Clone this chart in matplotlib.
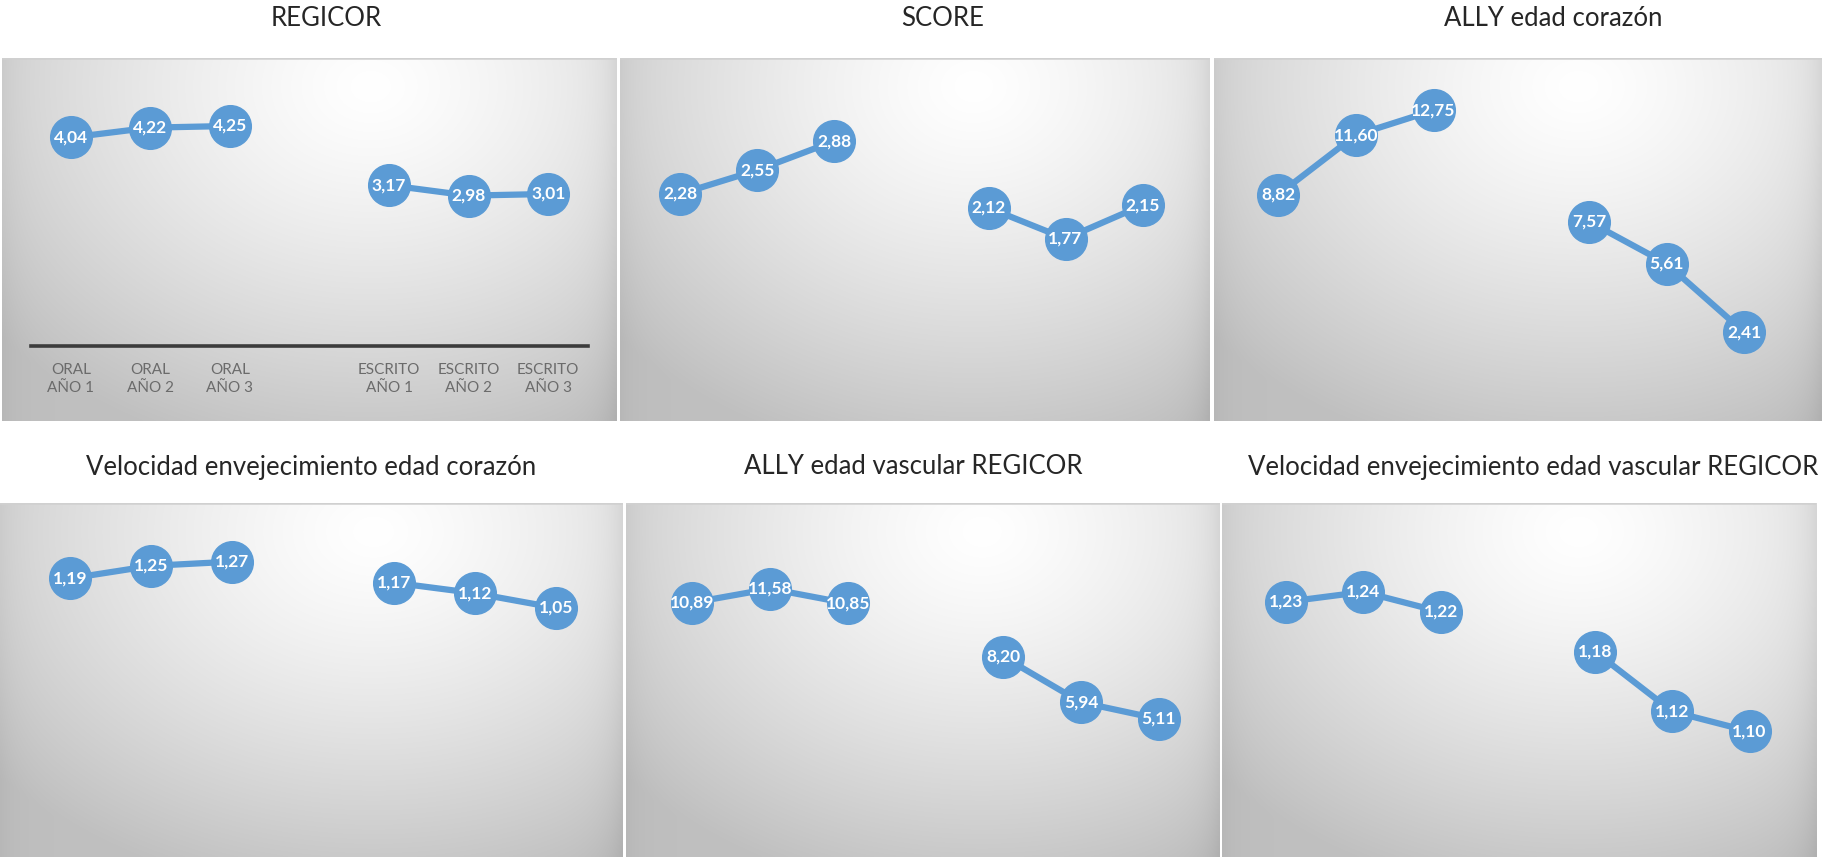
import numpy as np
import matplotlib
matplotlib.use("Agg")
import matplotlib.pyplot as plt

# ---- data -------------------------------------------------------------
categories = ["ORAL\nAÑO 1", "ORAL\nAÑO 2", "ORAL\nAÑO 3", "",
              "ESCRITO\nAÑO 1", "ESCRITO\nAÑO 2", "ESCRITO\nAÑO 3"]
oral_pos = [0, 1, 2]
escrito_pos = [4, 5, 6]

titles = ["REGICOR", "SCORE", "ALLY edad corazón",
          "Velocidad envejecimiento edad corazón",
          "ALLY edad vascular REGICOR",
          "Velocidad envejecimiento edad vascular REGICOR"]

regicor_oral = [4.04, 4.22, 4.25]
regicor_escrito = [3.17, 2.98, 3.01]
score_oral = [2.28, 2.55, 2.88]
score_escrito = [2.12, 1.77, 2.15]
ally_corazon_oral = [8.82, 11.60, 12.75]
ally_corazon_escrito = [7.57, 5.61, 2.41]
vel_corazon_oral = [1.19, 1.25, 1.27]
vel_corazon_escrito = [1.17, 1.12, 1.05]
ally_vascular_oral = [10.89, 11.58, 10.85]
ally_vascular_escrito = [8.20, 5.94, 5.11]
vel_vascular_oral = [1.23, 1.24, 1.22]
vel_vascular_escrito = [1.18, 1.12, 1.10]

# ---- figure -------------------------------------------------------------
W, H = 1825, 857
fig = plt.figure(figsize=(W / 100, H / 100), dpi=100)
fig.patch.set_facecolor("white")

BLUE = "#5B9BD5"
FONT = ["Lato", "DejaVu Sans"]


def rect(x0, y0, x1, y1):
    """Pixel box (top-left origin) -> figure fraction rect."""
    return [x0 / W, 1 - y1 / H, (x1 - x0) / W, (y1 - y0) / H]


def shade():
    """Radial grey fill, brightest near the upper middle."""
    h, w = 300, 400
    yy, xx = np.mgrid[0:1:h * 1j, 0:1:w * 1j]
    d = np.sqrt(((xx - 0.6) / 0.8) ** 2 + ((yy - 0.08) / 1.05) ** 2)
    d = np.clip(d, 0, 1)
    v = 1.0 - 0.25 * d ** 1.3
    # slightly darker side edges
    v -= 0.06 * np.exp(-(1 - xx) / 0.025) + 0.03 * np.exp(-xx / 0.025)
    return np.dstack([v, v, v])


def panel(box, xlim, ylim, oral, escrito, title, title_xy,
          axis_box=None, axis_ylim=None):
    bg = fig.add_axes(rect(*box))
    bg.imshow(shade(), extent=(0, 1, 0, 1), aspect="auto",
              interpolation="bicubic", vmin=0, vmax=1)
    bg.set_xlim(0, 1)
    bg.set_ylim(0, 1)
    bg.axhline(1, color="#d0d0d0", lw=1.8)
    bg.axis("off")

    if axis_box is not None:
        ax = fig.add_axes(rect(*axis_box))
        ax.set_xlim(-0.5, 6.5)
        ax.set_ylim(*axis_ylim)
        for s in ["top", "right", "left"]:
            ax.spines[s].set_visible(False)
        ax.spines["bottom"].set_color("#3c3c3c")
        ax.spines["bottom"].set_linewidth(2.6)
        ax.set_yticks([])
        ax.set_xticks(range(len(categories)))
        ax.set_xticklabels(categories, fontsize=11, color="#6b6b6b",
                           family=FONT, linespacing=1.35)
        ax.tick_params(axis="x", length=0, pad=12)
    else:
        ax = fig.add_axes(rect(*box))
        ax.set_xlim(*xlim)
        ax.set_ylim(*ylim)
        ax.axis("off")
    ax.patch.set_alpha(0)

    for xs, ys in ((oral_pos, oral), (escrito_pos, escrito)):
        ax.plot(xs, ys, color=BLUE, lw=4.5, marker="o", ms=30,
                mfc=BLUE, mec=BLUE, solid_capstyle="round", zorder=3,
                clip_on=False)
        for x, y in zip(xs, ys):
            ax.text(x, y, f"{y:.2f}".replace(".", ","), ha="center",
                    va="center", color="white", fontsize=12.5,
                    fontweight="bold", family=FONT, zorder=4)

    fig.text(title_xy[0] / W, 1 - title_xy[1] / H, title, ha="center",
             va="center", fontsize=18.5, color="#262626", family=FONT)


# top row
panel((2, 58, 617, 421), None, None, regicor_oral, regicor_escrito,
      titles[0], (326, 18),
      axis_box=(31, 58, 588, 346), axis_ylim=(0.237, 5.49))
panel((620, 58, 1210, 421), (-0.785, 6.876), (-0.303, 3.824),
      score_oral, score_escrito, titles[1], (943, 18))
panel((1214, 58, 1822, 421), (-0.825, 7.0), (-1.72, 15.19),
      ally_corazon_oral, ally_corazon_escrito, titles[2], (1553, 18))

# bottom row
panel((0, 503, 623, 857), (-0.863, 6.83), (-0.135, 1.549),
      vel_corazon_oral, vel_corazon_escrito, titles[3], (311, 467))
panel((626, 503, 1220, 857), (-0.855, 6.79), (-1.75, 15.84),
      ally_vascular_oral, ally_vascular_escrito, titles[4], (913, 467))
panel((1222, 503, 1816, 857), (-0.83, 6.86), (0.974, 1.3292),
      vel_vascular_oral, vel_vascular_escrito, titles[5], (1533, 467))

fig.savefig("out.png", dpi=100)
